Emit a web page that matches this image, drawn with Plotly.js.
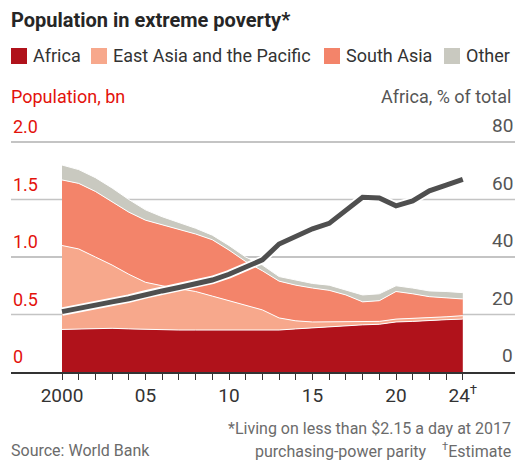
<!DOCTYPE html>
<html>
<head>
<meta charset="utf-8">
<script src="https://cdn.plot.ly/plotly-3.0.1.min.js"></script>
<style>
  html, body { margin: 0; padding: 0; background: #fff; }
  #chart { width: 526px; height: 466px; }
</style>
</head>
<body>
<div id="chart"></div>
<script>
// Population in extreme poverty, billions, by region
const years = [2000, 2001, 2002, 2003, 2004, 2005, 2006, 2007, 2008, 2009, 2010, 2011, 2012,
               2013, 2014, 2015, 2016, 2017, 2018, 2019, 2020, 2021, 2022, 2023, 2024];
const africa          = [0.37, 0.375, 0.38, 0.38, 0.375, 0.37, 0.37, 0.365, 0.365, 0.365, 0.36, 0.36, 0.36,
                         0.365, 0.375, 0.385, 0.39, 0.40, 0.41, 0.415, 0.435, 0.44, 0.45, 0.455, 0.46];
const eastAsiaPacific = [0.73, 0.695, 0.62, 0.55, 0.475, 0.41, 0.38, 0.36, 0.335, 0.295, 0.26, 0.215, 0.18,
                         0.105, 0.07, 0.05, 0.045, 0.035, 0.025, 0.025, 0.025, 0.025, 0.025, 0.025, 0.03];
const southAsia       = [0.57, 0.57, 0.57, 0.55, 0.54, 0.54, 0.53, 0.515, 0.50, 0.49, 0.44, 0.385, 0.34,
                         0.32, 0.31, 0.295, 0.275, 0.235, 0.175, 0.18, 0.24, 0.215, 0.18, 0.165, 0.145];
const other           = [0.13, 0.12, 0.12, 0.12, 0.11, 0.09, 0.07, 0.06, 0.05, 0.04, 0.04, 0.04, 0.05,
                         0.04, 0.045, 0.04, 0.045, 0.04, 0.06, 0.06, 0.05, 0.05, 0.05, 0.055, 0.055];
// Africa's share of the total, %
const africaShare     = [21.0, 22.0, 23.2, 24.4, 25.5, 27.0, 28.2, 29.4, 30.6, 32.0, 34.0, 36.5, 39.0,
                         44.5, 47.0, 49.8, 51.7, 56.2, 60.8, 60.5, 57.8, 59.5, 63.0, 65.0, 67.0];

const regionNames  = ['Africa', 'East Asia and the Pacific', 'South Asia', 'Other'];
const regionValues = [africa, eastAsiaPacific, southAsia, other];
const regionColors = ['#b0121b', '#f7a88c', '#f3846a', '#c9c9c0'];

const leftTicks   = [0, 0.5, 1, 1.5, 2];
const leftLabels  = ['0', '0.5', '1.0', '1.5', '2.0'];
const rightTicks  = [0, 20, 40, 60, 80];

const FONT = 'Roboto, "Liberation Sans", sans-serif';
const W = 526, H = 466;
const M = { l: 11, r: 11, t: 108, b: 94 };
const plotW = W - M.l - M.r, plotH = H - M.t - M.b;
const px = x => (x - M.l) / plotW;          // page x -> paper x
const py = y => (H - M.b - y) / plotH;      // page y -> paper y

const pxPerBn = 115;
const yTop = plotH / pxPerBn;               // left axis top, bn
const y2Top = yTop * 40;                    // 0.5 bn <-> 20 %

// x range chosen so 2000..2024 sits inside the full-width gridlines
const pxPerYear = 16.7;
const xStart = 2000 - (62 - M.l) / pxPerYear;
const xEnd = xStart + plotW / pxPerYear;

const traces = regionNames.map((name, i) => ({
  type: 'scatter', mode: 'lines', name: name,
  x: years, y: regionValues[i],
  stackgroup: 'pop',
  fillcolor: regionColors[i],
  line: { color: '#ffffff', width: 1 },
  hoverinfo: 'skip', showlegend: false
}));

// Africa share line with white halo
traces.push({
  type: 'scatter', mode: 'lines', x: years, y: africaShare, yaxis: 'y2',
  line: { color: '#ffffff', width: 8.5 }, hoverinfo: 'skip', showlegend: false
});
traces.push({
  type: 'scatter', mode: 'lines', x: years, y: africaShare, yaxis: 'y2',
  line: { color: '#4f4f4f', width: 5 }, hoverinfo: 'skip', showlegend: false
});

const xText = years.map(y => y === 2000 ? '2000'
  : y === 2024 ? '24<sup>†</sup>'
  : y % 5 === 0 ? String(y).slice(2) : '');

// horizontal gridlines: between the grid layer and the traces, so the areas cover them
const shapes = leftTicks.filter(v => v > 0).map(v => ({
  type: 'line', xref: 'x', yref: 'y', x0: xStart, x1: xEnd, y0: v, y1: v,
  layer: 'between', line: { color: '#c4c4c4', width: 1.6 }
}));

// legend built from the region names
const legendSquareX = [11, 91, 324, 444];
const legendY = 56, sq = 16;
regionNames.forEach((n, i) => shapes.push({
  type: 'rect', xref: 'paper', yref: 'paper',
  x0: px(legendSquareX[i]), x1: px(legendSquareX[i] + sq),
  y0: py(legendY + sq / 2), y1: py(legendY - sq / 2),
  fillcolor: regionColors[i], line: { width: 0 }
}));
const annotations = regionNames.map((n, i) => ({
  xref: 'paper', yref: 'paper', x: px(legendSquareX[i] + sq + 4), y: py(legendY),
  xanchor: 'left', yanchor: 'middle', showarrow: false, text: n,
  font: { family: FONT, size: 18, color: '#333333' }
}));

// axis labels sit just above their gridlines, left in red, right in grey
leftTicks.forEach((v, i) => annotations.push({
  xref: 'paper', yref: 'y', x: 0, y: v, xanchor: 'left', yanchor: 'bottom', yshift: 3,
  showarrow: false, text: leftLabels[i], font: { family: FONT, size: 18, color: '#e3120b' }
}));
rightTicks.forEach(v => annotations.push({
  xref: 'paper', yref: 'y2', x: 1, y: v, xanchor: 'right', yanchor: 'bottom', yshift: 3,
  showarrow: false, text: String(v), font: { family: FONT, size: 19, color: '#555555' }
}));

annotations.push(
  { xref: 'paper', yref: 'paper', x: px(9), y: py(20), xanchor: 'left', yanchor: 'middle',
    showarrow: false, text: '<b>Population in extreme poverty*</b>',
    font: { family: FONT, size: 20, color: '#262626' } },
  { xref: 'paper', yref: 'paper', x: px(9), y: py(97), xanchor: 'left', yanchor: 'middle',
    showarrow: false, text: 'Population, bn',
    font: { family: FONT, size: 18, color: '#e3120b' } },
  { xref: 'paper', yref: 'paper', x: px(513), y: py(97), xanchor: 'right', yanchor: 'middle',
    showarrow: false, text: 'Africa, % of total',
    font: { family: FONT, size: 18, color: '#555555' } },
  { xref: 'paper', yref: 'paper', x: px(9), y: py(450), xanchor: 'left', yanchor: 'middle',
    showarrow: false, text: 'Source: World Bank',
    font: { family: FONT, size: 16, color: '#6b6b6b' } },
  { xref: 'paper', yref: 'paper', x: px(513), y: py(428), xanchor: 'right', yanchor: 'middle',
    showarrow: false, text: '*Living on less than $2.15 a day at 2017',
    font: { family: FONT, size: 16, color: '#6b6b6b' } },
  { xref: 'paper', yref: 'paper', x: px(513), y: py(450), xanchor: 'right', yanchor: 'middle',
    showarrow: false, text: 'purchasing-power parity    <sup>†</sup>Estimate',
    font: { family: FONT, size: 16, color: '#6b6b6b' } }
);

const layout = {
  width: W, height: H,
  margin: M,
  paper_bgcolor: '#ffffff', plot_bgcolor: 'rgba(0,0,0,0)',
  showlegend: false,
  font: { family: FONT },
  xaxis: {
    range: [xStart, xEnd], tickmode: 'array', tickvals: years, ticktext: xText,
    ticks: 'outside', ticklen: 6, tickwidth: 1, tickcolor: '#333333',
    showline: true, linecolor: '#333333', linewidth: 1.5,
    showgrid: false, zeroline: false,
    tickfont: { family: FONT, size: 19, color: '#333333' }
  },
  yaxis: {
    range: [0, yTop], tickmode: 'array', tickvals: leftTicks,
    showticklabels: false, ticks: '',
    showgrid: true, gridcolor: '#c4c4c4', gridwidth: 1.6, zeroline: false
  },
  yaxis2: {
    range: [0, y2Top], overlaying: 'y', side: 'right', tickmode: 'array', tickvals: rightTicks,
    showticklabels: false, ticks: '', showgrid: false, zeroline: false
  },
  shapes: shapes,
  annotations: annotations
};

Plotly.newPlot('chart', traces, layout, { staticPlot: true, displayModeBar: false });
</script>
</body>
</html>
